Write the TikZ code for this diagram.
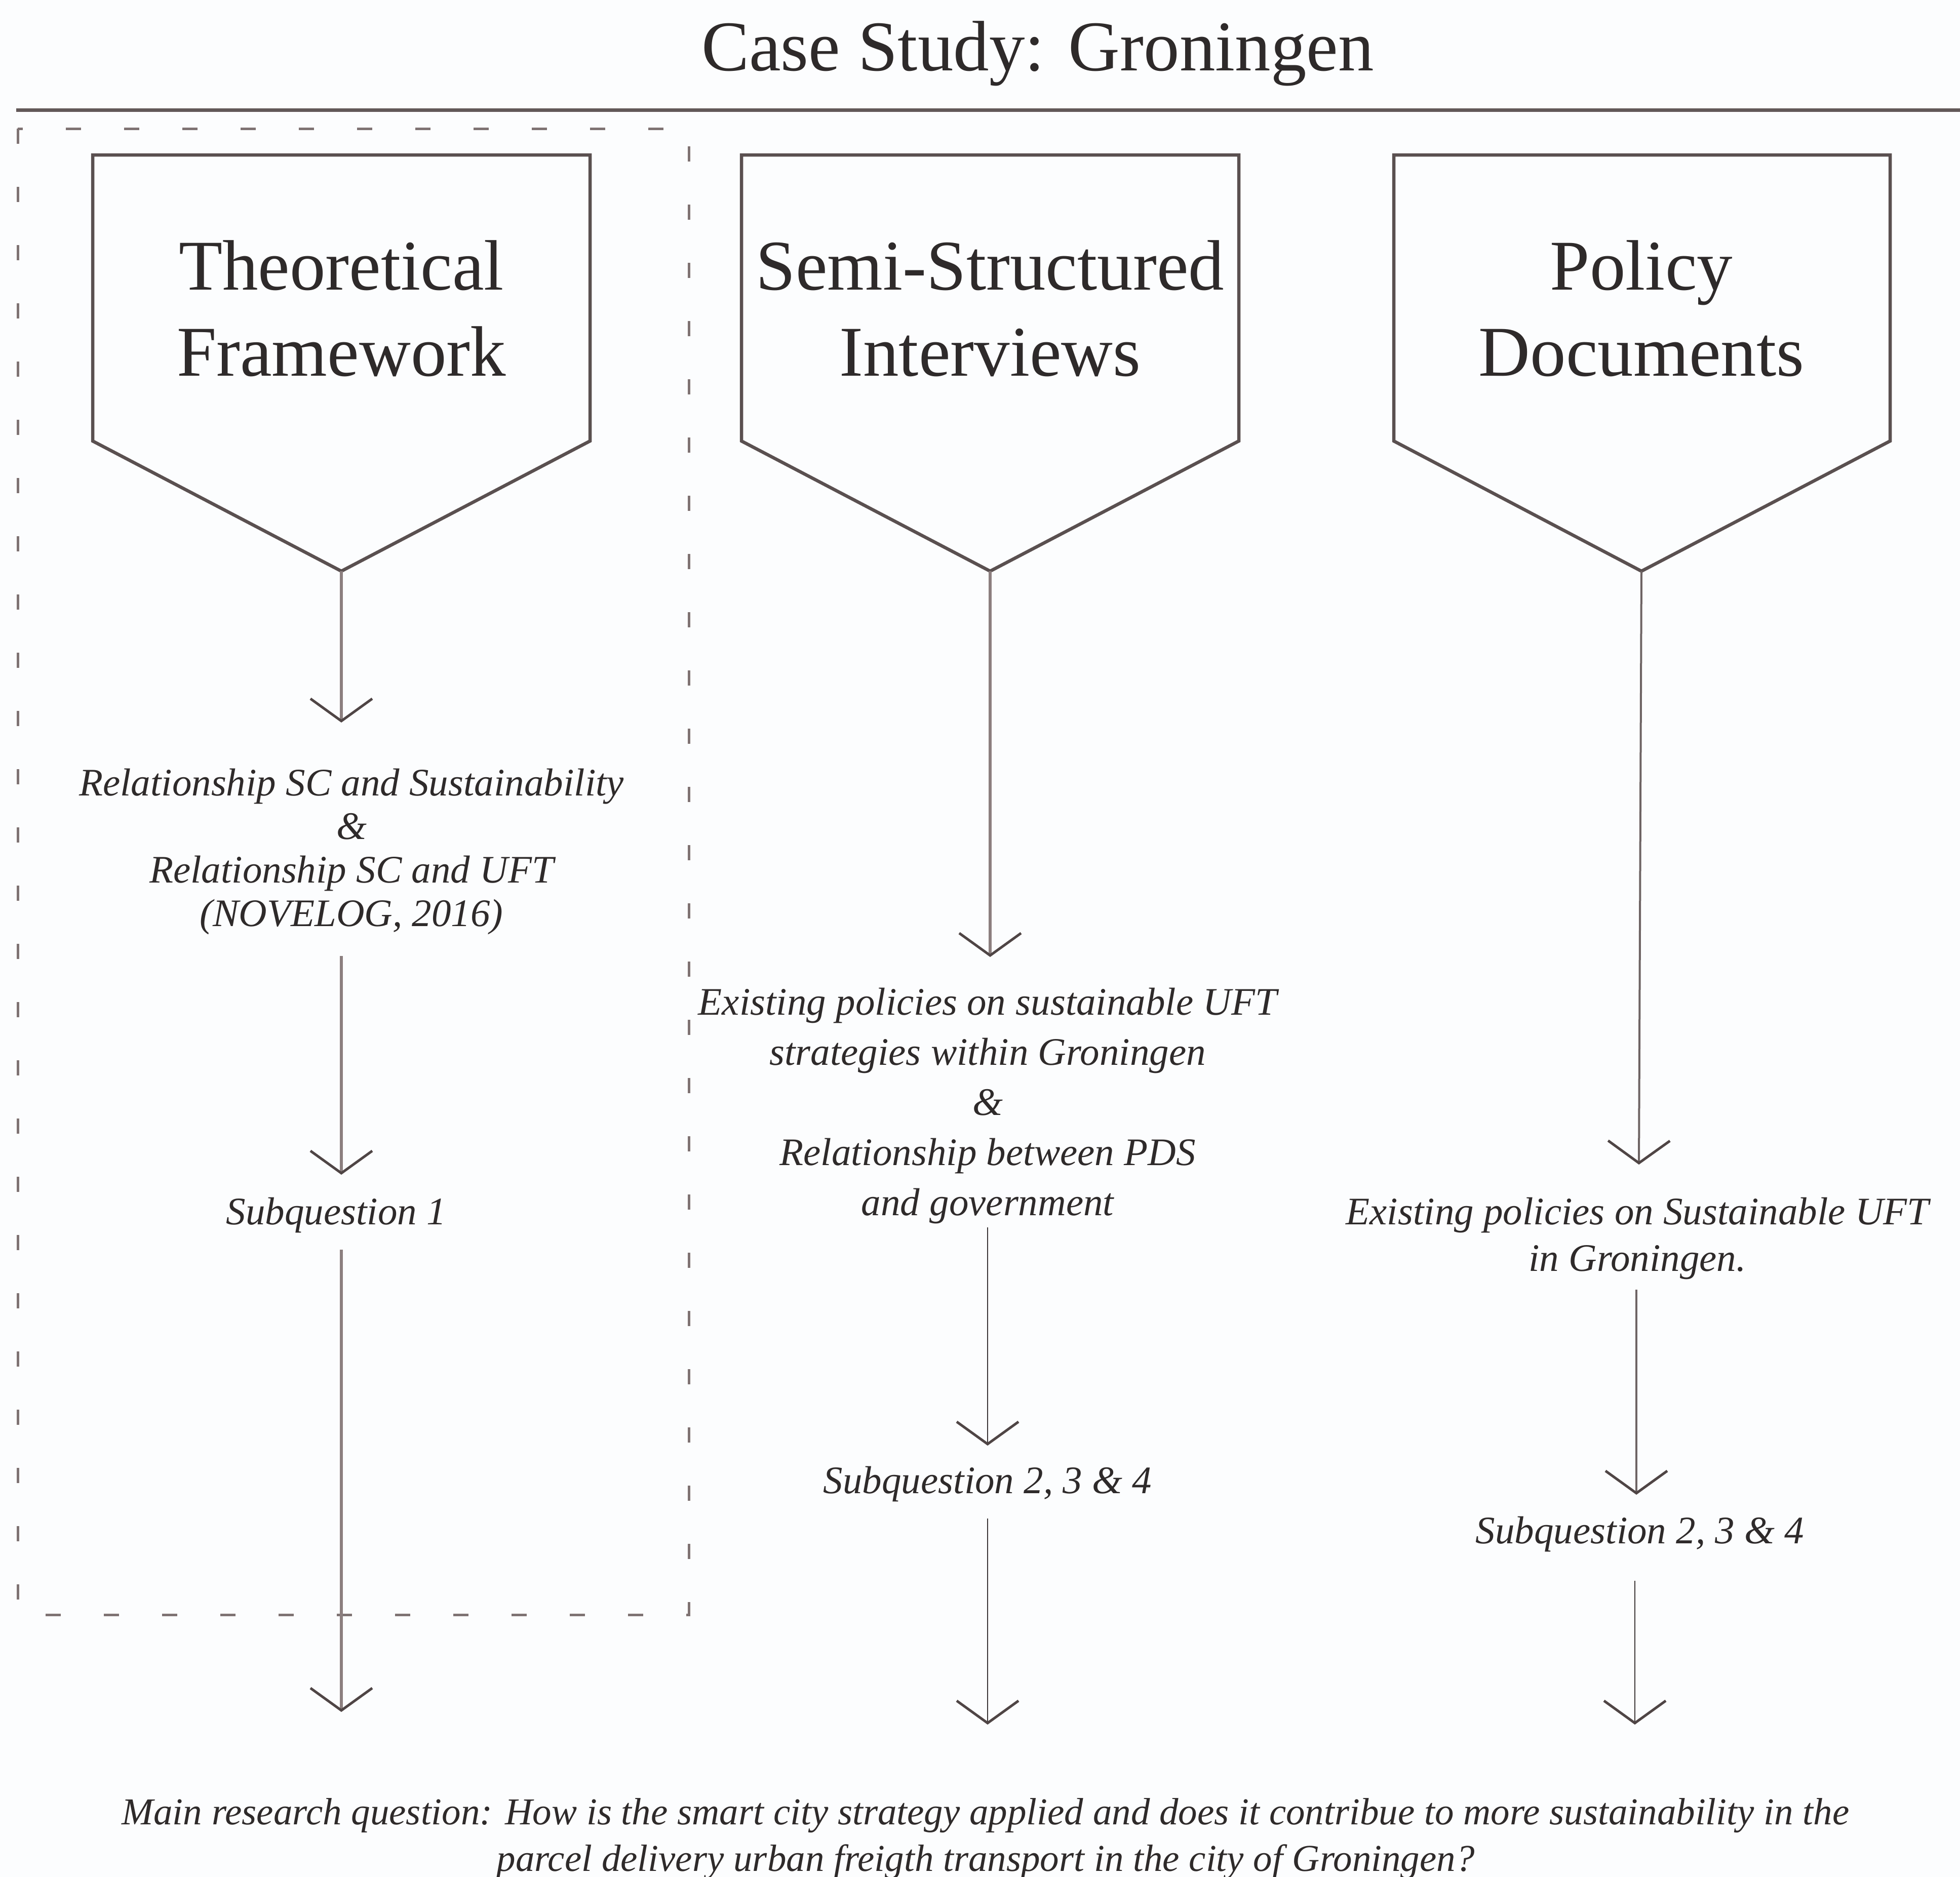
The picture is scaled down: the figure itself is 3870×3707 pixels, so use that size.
\documentclass[tikz,border=0pt]{standalone}
\usepackage{fontspec}
\setmainfont{Liberation Serif}
\usetikzlibrary{arrows.meta}
\definecolor{bgcol}{HTML}{FCFDFE}
\definecolor{shieldcol}{HTML}{5A5050}
\definecolor{rulecol}{HTML}{625858}
\definecolor{dashcol}{HTML}{7F7373}
\definecolor{shaftgray}{HTML}{8C7F7F}
\definecolor{shaftmid}{HTML}{6E6464}
\definecolor{shaftdark}{HTML}{3C3636}
\definecolor{tipcol}{HTML}{4F4545}
\definecolor{txtcol}{HTML}{2E2A2A}
\tikzset{
  bigtxt/.style={text=txtcol, align=center, inner sep=0pt, font=\fontsize{28.2pt}{34pt}\selectfont},
  ittxt/.style={text=txtcol, align=center, inner sep=0pt, font=\fontsize{15.4pt}{18.6pt}\selectfont\itshape},
  shieldline/.style={draw=shieldcol, line width=1.3pt, line join=miter},
  vtip/.style={-{Straight Barb[length=8.8pt, width=24.4pt, line width=1pt, color=tipcol]}},
  arrthick/.style={vtip, draw=shaftgray, line width=1.3pt},
  arrmid/.style={vtip, draw=shaftmid, line width=0.8pt},
  arrthin/.style={vtip, draw=shaftdark, line width=0.55pt},
  dashrect/.style={draw=dashcol, line width=1pt, dash pattern=on 6pt off 17pt}
}
\begin{document}
\begin{tikzpicture}[x=0.2pt,y=-0.2pt]
\fill[bgcol] (0,0) rectangle (3870,3707);
\useasboundingbox (0,0) rectangle (3870,3707);

% title and rule
\node[bigtxt] (title) at (2049,106) {Case Study: Groningen};
\coordinate (ruleL) at (32,217);
\coordinate (ruleR) at (3870,217);
\draw[rulecol, line width=1.4pt] (ruleL) -- (ruleR);

% dashed frame around the theoretical column
\draw[dashrect] (35,254) rectangle (1360,3189);

% shields
\draw[shieldline] (183,306) -- (1165,306) -- (1165,871) -- (674,1128) coordinate (tipL) -- (183,871) -- cycle;
\draw[shieldline] (1464,306) -- (2446,306) -- (2446,871) -- (1955,1128) coordinate (tipM) -- (1464,871) -- cycle;
\draw[shieldline] (2752,306) -- (3732,306) -- (3732,871) -- (3241,1128) coordinate (tipR) -- (2752,871) -- cycle;

\node[bigtxt] (hL) at (674,609) {Theoretical\\Framework};
\node[bigtxt] (hM) at (1955,609) {Semi-Structured\\Interviews};
\node[bigtxt] (hR) at (3241,609) {Policy\\Documents};

% left column texts
\node[ittxt, font=\fontsize{15.4pt}{17.2pt}\selectfont\itshape] (relL) at (694,1682)
  {Relationship SC and Sustainability\\\&\\Relationship SC and UFT\\(NOVELOG, 2016)};
\node[ittxt] (subL) at (664,2400) {Subquestion 1};

% middle column texts
\node[ittxt, font=\fontsize{15.4pt}{19.8pt}\selectfont\itshape] (relM) at (1950,2184)
  {Existing policies on sustainable UFT\\strategies within Groningen\\\&\\Relationship between PDS\\and government};
\node[ittxt] (subM) at (1950,2931) {Subquestion 2, 3 \& 4};

% right column texts
\node[ittxt, font=\fontsize{15.4pt}{18.4pt}\selectfont\itshape] (relR) at (3233,2446)
  {Existing policies on Sustainable UFT\\in Groningen.};
\node[ittxt] (subR) at (3238,3030) {Subquestion 2, 3 \& 4};

% main question
\node[ittxt, font=\fontsize{15pt}{18.4pt}\selectfont\itshape] (mainq) at (1946,3632)
  {Main research question: How is the smart city strategy applied and does it contribue to more sustainability in the\\parcel delivery urban freigth transport in the city of Groningen?};

% arrow end points
\coordinate (eL1) at (674,1427);
\coordinate (sL2) at (674,1888);
\coordinate (eL2) at (674,2320);
\coordinate (sL3) at (674,2468);
\coordinate (eL3) at (674,3381);

\coordinate (eM1) at (1955,1890);
\coordinate (sM2) at (1950,2424);
\coordinate (eM2) at (1950,2855);
\coordinate (sM3) at (1950,2999);
\coordinate (eM3) at (1950,3406);

\coordinate (eR1) at (3236,2300);
\coordinate (sR2) at (3231,2547);
\coordinate (eR2) at (3231,2952);
\coordinate (sR3) at (3228,3122);
\coordinate (eR3) at (3228,3406);

% arrows
\draw[arrthick] (tipL) -- (eL1);
\draw[arrthick] (sL2) -- (eL2);
\draw[arrthick] (sL3) -- (eL3);

\draw[arrthick] (tipM) -- (eM1);
\draw[arrthin] (sM2) -- (eM2);
\draw[arrthin] (sM3) -- (eM3);

\draw[arrmid] (tipR) -- (eR1);
\draw[arrmid] (sR2) -- (eR2);
\draw[arrthin] (sR3) -- (eR3);
\end{tikzpicture}
\end{document}
